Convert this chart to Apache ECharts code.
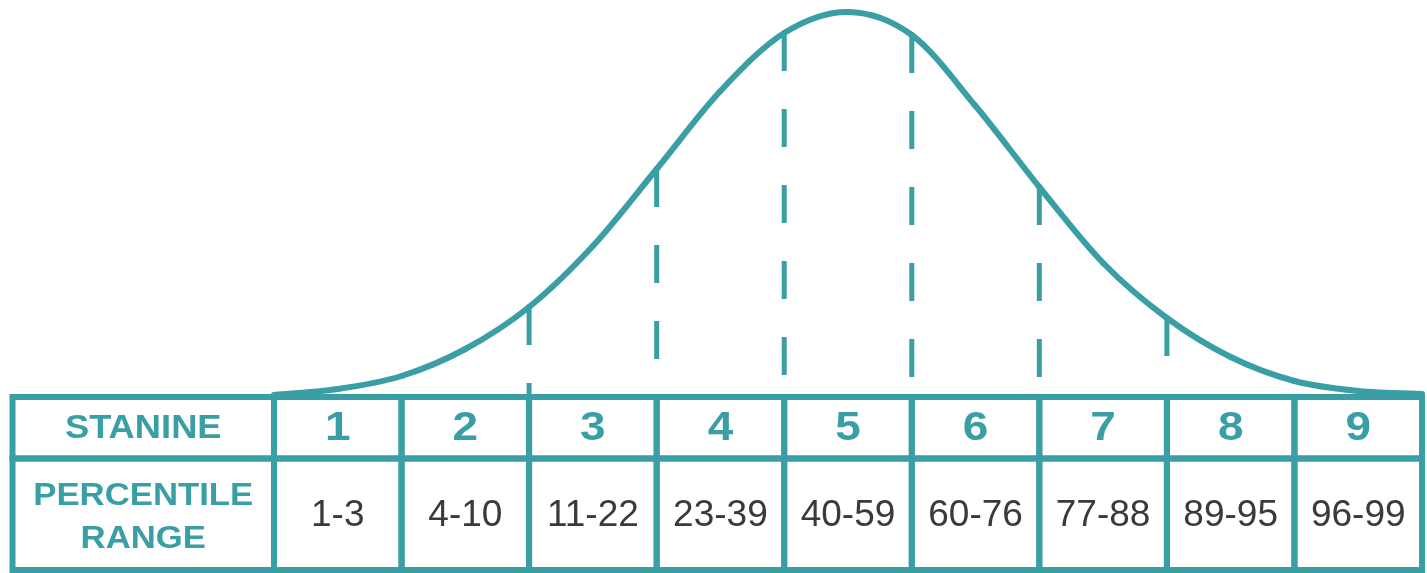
<!DOCTYPE html>
<html>
<head>
<meta charset="utf-8">
<title>Stanine</title>
<script src="https://cdn.jsdelivr.net/npm/echarts/dist/echarts.min.js"></script>
<style>
  html, body { margin: 0; padding: 0; background: #fff; }
  #stanine-chart { width: 1427px; height: 573px; }
</style>
</head>
<body>
<div id="stanine-chart"></div>
<script>
// 表格内容
const stanines = ['1', '2', '3', '4', '5', '6', '7', '8', '9']
const percentiles = ['1-3', '4-10', '11-22', '23-39', '40-59', '60-76', '77-88', '89-95', '96-99']
const rowLabels = ['STANINE', 'PERCENTILE\nRANGE']

// 曲线（从图上读的点，x 以 stanine 为单位，y 为表格上沿以上的高度）
const curveX = [0.5, 1, 1.5, 2, 2.5, 3, 3.5, 4, 4.5, 5, 5.5, 6, 6.5, 7, 7.5, 8, 8.5, 9, 9.5]
const curveY = [2, 8, 21, 48, 90, 151, 228, 306, 364, 385, 362, 291, 210, 134, 79, 40, 16, 6, 3]

// 虚线所在的分界
const dividers = [2.5, 3.5, 4.5, 5.5, 6.5, 7.5]

const TEAL = '#3a9ea5'
const FONT = 'Liberation Sans, Arial, sans-serif'
const X_MIN = -1.55
const X_MAX = 9.5
const ROW_TOP = 0
const ROW_MID = -61.5
const ROW_BOTTOM = -173

const myChart = echarts.init(document.getElementById('stanine-chart'))

function heightAt(x) {
  return curveY[curveX.indexOf(x)]
}

// 曲线的一段：用前后两点求 Catmull-Rom 控制点，画成三次贝塞尔
function renderCurveSegment(params, api) {
  const i = params.dataIndex
  const n = curveX.length
  if (i >= n - 1) return
  const pt = j => {
    const k = Math.max(0, Math.min(n - 1, j))
    return api.coord([curveX[k], curveY[k]])
  }
  const p0 = pt(i - 1)
  const p1 = pt(i)
  const p2 = pt(i + 1)
  const p3 = pt(i + 2)
  return {
    type: 'bezierCurve',
    shape: {
      x1: p1[0],
      y1: p1[1],
      x2: p2[0],
      y2: p2[1],
      cpx1: p1[0] + (p2[0] - p0[0]) / 6,
      cpy1: p1[1] + (p2[1] - p0[1]) / 6,
      cpx2: p2[0] - (p3[0] - p1[0]) / 6,
      cpy2: p2[1] - (p3[1] - p1[1]) / 6
    },
    style: { stroke: TEAL, lineWidth: 6, fill: null, lineCap: 'round' }
  }
}

// 分界虚线：从曲线落到表格上沿
function renderDivider(params, api) {
  const top = api.coord([api.value(0), api.value(1)])
  const bottom = api.coord([api.value(0), ROW_TOP])
  return {
    type: 'line',
    shape: { x1: top[0], y1: top[1], x2: bottom[0], y2: bottom[1] },
    style: { stroke: TEAL, lineWidth: 5, lineDash: [38, 38] }
  }
}

function cellText(text, x, y, style, scaleX) {
  return {
    type: 'text',
    x: x,
    y: y,
    scaleX: scaleX,
    style: Object.assign({
      text: text,
      x: 0,
      y: 0,
      align: 'center',
      verticalAlign: 'middle',
      fontFamily: FONT
    }, style)
  }
}

// 表格的一列（0 为左侧标题列）
function renderColumn(params, api) {
  const k = api.value(0)
  const left = k === 0 ? X_MIN : k - 0.5
  const right = k + 0.5
  const tl = api.coord([left, ROW_TOP])
  const mr = api.coord([right, ROW_MID])
  const br = api.coord([right, ROW_BOTTOM])
  const cx = (tl[0] + mr[0]) / 2
  const topY = (tl[1] + mr[1]) / 2
  const bottomY = (mr[1] + br[1]) / 2
  const cellStyle = { fill: 'rgba(0,0,0,0)', stroke: TEAL, lineWidth: 6 }
  const children = [
    {
      type: 'rect',
      shape: { x: tl[0], y: tl[1], width: mr[0] - tl[0], height: mr[1] - tl[1] },
      style: cellStyle
    },
    {
      type: 'rect',
      shape: { x: tl[0], y: mr[1], width: br[0] - tl[0], height: br[1] - mr[1] },
      style: cellStyle
    }
  ]
  if (k === 0) {
    children.push(cellText(rowLabels[0], cx, topY + 1,
      { fill: TEAL, fontWeight: 'bold', fontSize: 33 }, 1.1))
    children.push(cellText(rowLabels[1], cx, bottomY + 4,
      { fill: TEAL, fontWeight: 'bold', fontSize: 31, lineHeight: 43 }, 1.12))
  } else {
    children.push(cellText(stanines[k - 1], cx, topY + 1,
      { fill: TEAL, fontWeight: 'bold', fontSize: 41 }, 1.12))
    children.push(cellText(percentiles[k - 1], cx, bottomY + 2,
      { fill: '#3a3a3a', fontWeight: 'normal', fontSize: 37 }, 1))
  }
  return { type: 'group', children: children }
}

const option = {
  animation: false,
  grid: { left: 12.5, right: 5, top: 0, bottom: 0 },
  xAxis: { type: 'value', min: X_MIN, max: X_MAX, show: false },
  yAxis: { type: 'value', min: -176, max: 397, show: false },
  series: [
    {
      type: 'custom',
      renderItem: renderColumn,
      data: [0, 1, 2, 3, 4, 5, 6, 7, 8, 9].map(k => [k]),
      z: 1
    },
    {
      type: 'custom',
      renderItem: renderDivider,
      data: dividers.map(x => [x, heightAt(x)]),
      z: 2
    },
    {
      type: 'custom',
      renderItem: renderCurveSegment,
      data: curveX.map((x, i) => [x, curveY[i]]),
      clip: false,
      z: 3
    }
  ]
}
myChart.setOption(option)
</script>
</body>
</html>
